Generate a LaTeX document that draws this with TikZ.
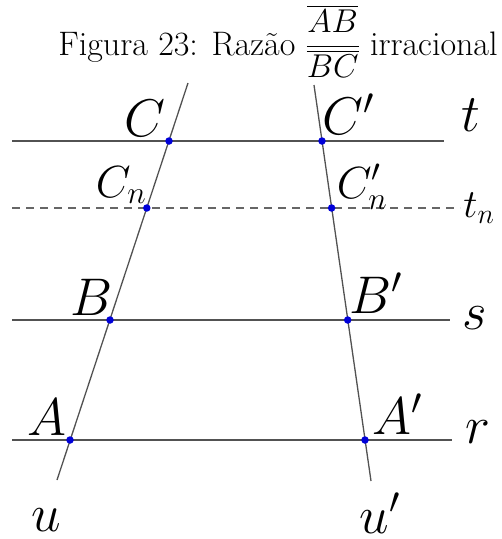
\RequirePackage{fix-cm}
\documentclass[tikz,border=0pt]{standalone}
\usepackage{amsmath}
\begin{document}
\begin{tikzpicture}[x=1pt,y=-1pt]
\tikzset{
  ln/.style={draw=black!68, line width=1.3pt},
  dln/.style={draw=black!60, line width=1.1pt, dash pattern=on 8pt off 6pt},
  pt/.style={circle, fill=blue!85!black, inner sep=0pt, minimum size=7.5pt},
  lbl/.style={inner sep=0pt, outer sep=0pt, anchor=base, font=\fontsize{53}{60}\selectfont},
  lbls/.style={inner sep=0pt, outer sep=0pt, anchor=base, font=\fontsize{45}{52}\selectfont}
}
\useasboundingbox (0,0) rectangle (502,539);
% title
\node[anchor=base, inner sep=0pt, font=\fontsize{34}{40}\selectfont] (title) at (278,55)
  {Figura 23: Raz\~ao {\fontsize{33}{38}\selectfont$\dfrac{\overline{AB}}{\overline{BC}}$} irracional};
% intersection points
\coordinate (A) at (70,440);
\coordinate (B) at (110,320);
\coordinate (Cn) at (146.8,208);
\coordinate (C) at (169,141);
\coordinate (A') at (365,440);
\coordinate (B') at (347.7,320);
\coordinate (Cn') at (331.6,208);
\coordinate (C') at (322,141);
% line ends
\coordinate (t1) at (12,141);  \coordinate (t2) at (444,141);
\coordinate (tn1) at (12,208); \coordinate (tn2) at (460,208);
\coordinate (s1) at (12,320);  \coordinate (s2) at (450,320);
\coordinate (r1) at (12,440);  \coordinate (r2) at (452,440);
\coordinate (u1) at (188,83);  \coordinate (u2) at (57,480);
\coordinate (v1) at (314,85);  \coordinate (v2) at (371,481);
% lines
\draw[ln] (t1) -- (t2);
\draw[dln] (tn1) -- (tn2);
\draw[ln] (s1) -- (s2);
\draw[ln] (r1) -- (r2);
\draw[ln] (u1) -- (u2);
\draw[ln] (v1) -- (v2);
% points
\foreach \p in {A,B,Cn,C,A',B',Cn',C'} \node[pt] at (\p) {};
% labels
\node[lbl] (lC) at (145,136) {$C$};
\node[lbl] (lCp) at (348,134) {$C'$};
\node[lbl] (lt) at (471,131) {$t$};
\node[lbls] (lCn) at (121,197) {$C_n$};
\node[lbls] (lCnp) at (362,198) {$C'_n$};
\node[lbls, font=\fontsize{40}{46}\selectfont] (ltn) at (479,217) {$t_n$};
\node[lbl] (lB) at (92,315) {$B$};
\node[lbl] (lBp) at (376,313) {$B'$};
\node[lbl] (ls) at (475,329) {$s$};
\node[lbl] (lA) at (47,435) {$A$};
\node[lbl] (lAp) at (397,434) {$A'$};
\node[lbl] (lr) at (478,443) {$r$};
\node[lbl] (lu) at (46,531) {$u$};
\node[lbl] (lup) at (380,533) {$u'$};
\end{tikzpicture}
\end{document}
